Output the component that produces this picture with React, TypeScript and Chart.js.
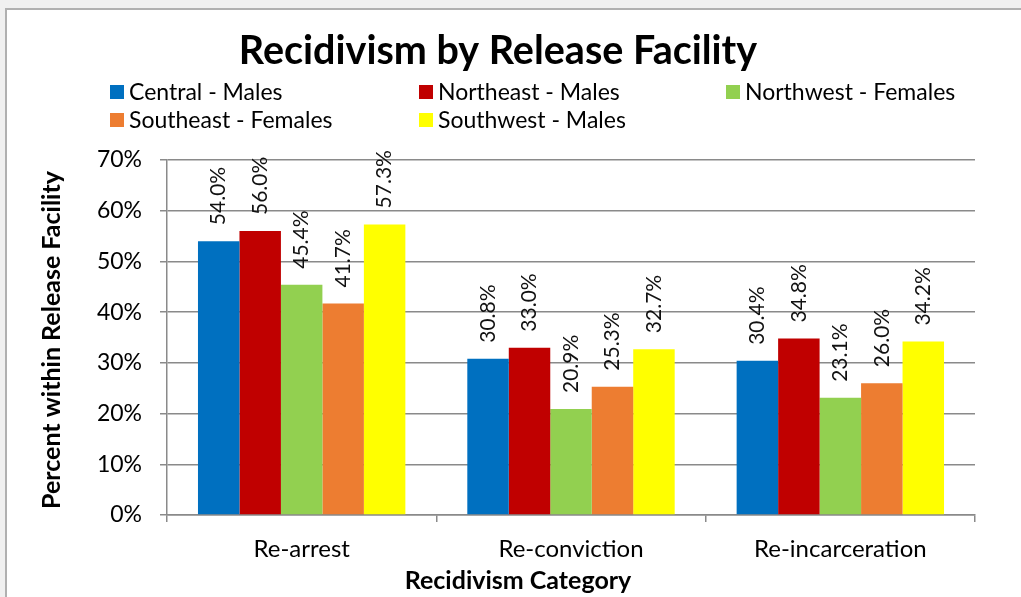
import React, { useEffect, useRef } from "react";
import { Chart, registerables } from "chart.js";

Chart.register(...registerables);

const categories = ["Re-arrest", "Re-conviction", "Re-incarceration"];
const seriesNames = [
  "Central - Males",
  "Northeast - Males",
  "Northwest - Females",
  "Southeast - Females",
  "Southwest - Males",
];
const centralMales = [54.0, 30.8, 30.4];
const northeastMales = [56.0, 33.0, 34.8];
const northwestFemales = [45.4, 20.9, 23.1];
const southeastFemales = [41.7, 25.3, 26.0];
const southwestMales = [57.3, 32.7, 34.2];
const seriesColors = ["#0070C0", "#C00000", "#92D050", "#ED7D31", "#FFFF00"];
const yTicks = [0, 10, 20, 30, 40, 50, 60, 70];

const chartTitle = "Recidivism by Release Facility";
const xTitle = "Recidivism Category";
const yTitle = "Percent within Release Facility";

const FONT = "Lato, 'Open Sans', sans-serif";
const GRID = "#8a8a8a";

const decorPlugin = {
  id: "decor",
  afterDatasetsDraw(chart: any) {
    const ctx = chart.ctx;
    ctx.save();
    ctx.fillStyle = "#111";
    ctx.font = `21px ${FONT}`;
    chart.data.datasets.forEach((ds: any, di: number) => {
      const meta = chart.getDatasetMeta(di);
      meta.data.forEach((bar: any, i: number) => {
        const v = ds.data[i];
        ctx.save();
        ctx.translate(bar.x, bar.y - 16);
        ctx.rotate(-Math.PI / 2);
        ctx.textAlign = "left";
        ctx.textBaseline = "middle";
        ctx.fillText(v.toFixed(1) + "%", 0, 0);
        ctx.restore();
      });
    });
    ctx.restore();
  },
  afterDraw(chart: any) {
    const ctx = chart.ctx;
    ctx.save();
    ctx.fillStyle = "#000";
    // title
    ctx.font = `bold 39.5px ${FONT}`;
    ctx.textAlign = "center";
    ctx.textBaseline = "alphabetic";
    ctx.fillText(chartTitle, 498, 64);
    // legend
    const cols = [110, 419, 726];
    const rows = [92, 120];
    ctx.font = `23px ${FONT}`;
    ctx.textAlign = "left";
    ctx.textBaseline = "middle";
    chart.data.datasets.forEach((ds: any, i: number) => {
      const x = cols[i % 3];
      const y = rows[Math.floor(i / 3)];
      ctx.fillStyle = ds.backgroundColor;
      ctx.fillRect(x, y - 7, 14, 14);
      ctx.fillStyle = "#000";
      ctx.fillText(ds.label, x + 19, y + 1);
    });
    // x title
    ctx.font = `bold 25px ${FONT}`;
    ctx.textAlign = "center";
    ctx.textBaseline = "alphabetic";
    ctx.fillText(xTitle, 518, 589);
    // y title
    ctx.save();
    ctx.translate(60, 340);
    ctx.rotate(-Math.PI / 2);
    ctx.font = `bold 25px ${FONT}`;
    ctx.textAlign = "center";
    ctx.textBaseline = "alphabetic";
    ctx.fillText(yTitle, 0, 0);
    ctx.restore();
    ctx.restore();
  },
};

export default function App() {
  const ref = useRef<HTMLCanvasElement>(null);
  useEffect(() => {
    if (!ref.current) return;
    const values = [centralMales, northeastMales, northwestFemales, southeastFemales, southwestMales];
    const chart = new Chart(ref.current, {
      type: "bar",
      data: {
        labels: categories,
        datasets: seriesNames.map((name, i) => ({
          label: name,
          data: values[i],
          backgroundColor: seriesColors[i],
          borderWidth: 0,
          barPercentage: 1,
          categoryPercentage: 0.77,
        })),
      },
      options: {
        responsive: false,
        animation: false,
        devicePixelRatio: 1,
        layout: { padding: { top: 160, left: 0, right: 46, bottom: 0 } },
        plugins: {
          legend: { display: false },
          title: { display: false },
          tooltip: { enabled: false },
        },
        scales: {
          x: {
            afterFit: (s: any) => {
              s.height = 82;
            },
            grid: {
              drawOnChartArea: false,
              offset: true,
              tickLength: 7,
              color: GRID,
              lineWidth: 1.5,
            },
            border: { color: GRID, width: 1.5 },
            ticks: {
              color: "#000",
              padding: 13,
              font: { family: FONT, size: 24 },
            },
          },
          y: {
            min: 0,
            max: 70,
            afterFit: (s: any) => {
              s.width = 167;
            },
            afterBuildTicks: (s: any) => {
              s.ticks = yTicks.map((v) => ({ value: v }));
            },
            grid: { color: GRID, lineWidth: 1.5, tickLength: 7 },
            border: { color: GRID, width: 1.5 },
            ticks: {
              color: "#000",
              padding: 18,
              font: { family: FONT, size: 23 },
              callback: (v: any) => v + "%",
            },
          },
        },
      },
      plugins: [decorPlugin],
    });
    return () => chart.destroy();
  }, []);

  return (
    <div style={{ position: "fixed", left: 0, top: 0, width: 1021, height: 597, background: "#f0f0f0", overflow: "hidden" }}>
      <div
        style={{
          position: "absolute",
          left: 5,
          top: 8,
          width: 1040,
          height: 620,
          background: "#fff",
          border: "2px solid #b0b0b0",
        }}
      />
      <canvas
        ref={ref}
        width={1021}
        height={597}
        style={{ position: "absolute", left: 0, top: 0, width: 1021, height: 597 }}
      />
    </div>
  );
}
